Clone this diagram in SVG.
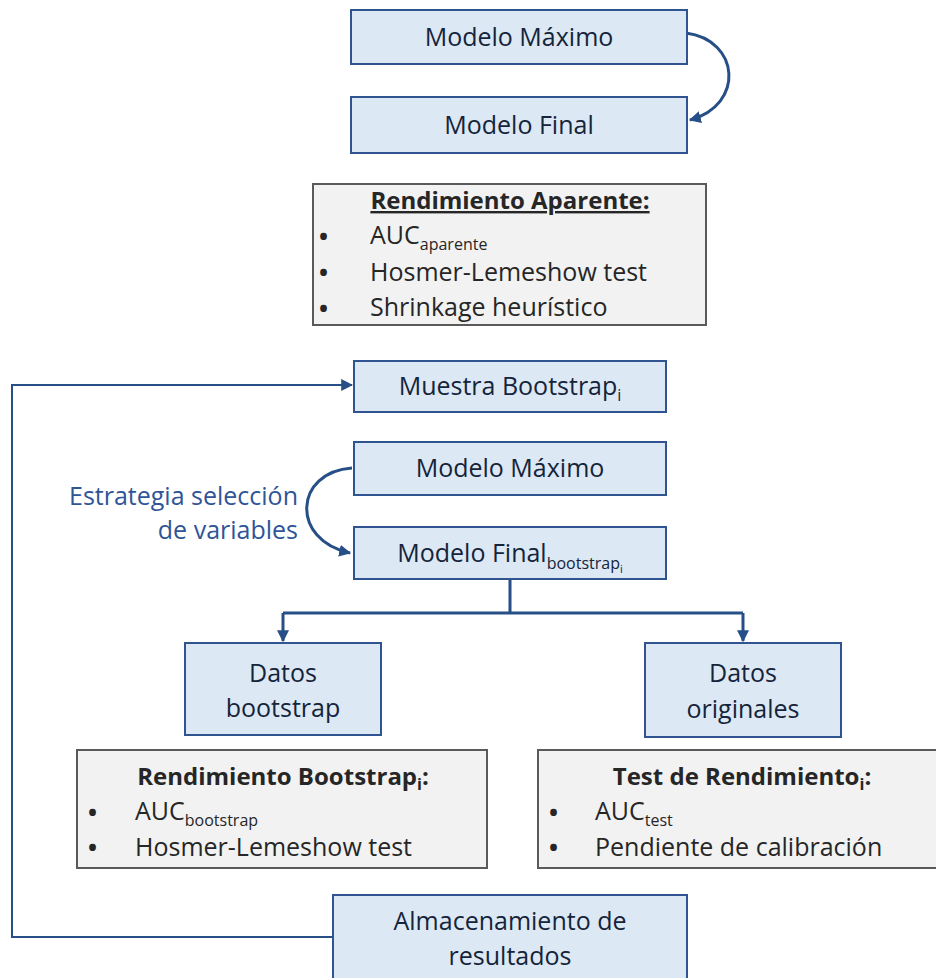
<svg xmlns="http://www.w3.org/2000/svg" width="936" height="978" viewBox="0 0 936 978">
<defs>
<style>
.bx{fill:#dde8f5;stroke:#2f5490;stroke-width:2}
.gx{fill:#f2f2f2;stroke:#5a5a5a;stroke-width:2}
.t{font-family:"Open Sans","Noto Sans",sans-serif;font-size:25px;fill:#14243a}
.g{font-family:"Open Sans","Noto Sans",sans-serif;font-size:25px;fill:#262626}
.bul{font-size:24px;font-weight:bold}
.b{font-weight:bold;font-size:24px}
.sub{font-size:16px}
.sub2{font-size:11px}
.c{fill:none;stroke:#264f87;stroke-width:2}
.c3{fill:none;stroke:#264f87;stroke-width:3}
.lbl{font-family:"Open Sans","Noto Sans",sans-serif;font-size:25px;fill:#2f5597}
</style>
<marker id="ah" viewBox="0 0 10 10" refX="9" refY="5" markerWidth="12" markerHeight="12" markerUnits="userSpaceOnUse" orient="auto">
<path d="M0,0 L10,5 L0,10 z" fill="#264f87"/>
</marker>
</defs>

<g id="connectors">
<path class="c3" d="M686,33 C740,40 745,105 690,120" marker-end="url(#ah)"/>
<path class="c" d="M333,937 H12 V385 H352" marker-end="url(#ah)"/>
<path class="c3" d="M352,468 C294,472 290,540 350,553" marker-end="url(#ah)"/>
<path class="c3" d="M510,579 V613 M283,613 H743"/>
<path class="c3" d="M283,613 V641" marker-end="url(#ah)"/>
<path class="c3" d="M743,613 V641" marker-end="url(#ah)"/>
</g>

<g id="modelo-maximo-1">
<rect class="bx" x="351" y="10" width="336" height="54"/>
<text class="t" x="519" y="46" text-anchor="middle">Modelo Máximo</text>
</g>

<g id="modelo-final-1">
<rect class="bx" x="351" y="97" width="336" height="56"/>
<text class="t" x="519" y="134" text-anchor="middle">Modelo Final</text>
</g>

<g id="rendimiento-aparente">
<rect class="gx" x="313" y="184" width="393" height="141"/>
<text class="g b" x="510" y="209" text-anchor="middle" text-decoration="underline">Rendimiento Aparente:</text>
<text class="g bul" x="319" y="245">•</text>
<text class="g" x="370" y="244">AUC<tspan class="sub" dy="6">aparente</tspan></text>
<text class="g bul" x="319" y="281">•</text>
<text class="g" x="370" y="281">Hosmer-Lemeshow test</text>
<text class="g bul" x="319" y="317">•</text>
<text class="g" x="370" y="316">Shrinkage heurístico</text>
</g>

<g id="muestra-bootstrap">
<rect class="bx" x="354" y="361" width="312" height="51"/>
<text class="t" x="510" y="395" text-anchor="middle">Muestra Bootstrap<tspan class="sub" dy="6">i</tspan></text>
</g>

<g id="modelo-maximo-2">
<rect class="bx" x="354" y="442" width="312" height="53"/>
<text class="t" x="510" y="477" text-anchor="middle">Modelo Máximo</text>
</g>

<g id="estrategia-label">
<text class="lbl" x="298" y="505" text-anchor="end">Estrategia selección</text>
<text class="lbl" x="298" y="539" text-anchor="end">de variables</text>
</g>

<g id="modelo-final-bootstrap">
<rect class="bx" x="354" y="527" width="312" height="52"/>
<text class="t" x="510" y="562" text-anchor="middle">Modelo Final<tspan class="sub" dy="7">bootstrap</tspan><tspan class="sub2" dy="4">i</tspan></text>
</g>

<g id="datos-bootstrap">
<rect class="bx" x="185" y="643" width="196" height="92"/>
<text class="t" x="283" y="682" text-anchor="middle">Datos</text>
<text class="t" x="283" y="717" text-anchor="middle">bootstrap</text>
</g>

<g id="datos-originales">
<rect class="bx" x="645" y="643" width="196" height="94"/>
<text class="t" x="743" y="682" text-anchor="middle">Datos</text>
<text class="t" x="743" y="718" text-anchor="middle">originales</text>
</g>

<g id="rendimiento-bootstrap">
<rect class="gx" x="77" y="750" width="410" height="118"/>
<text class="g b" x="283" y="785" text-anchor="middle">Rendimiento Bootstrap<tspan class="sub" dy="5">i</tspan><tspan dy="-5">:</tspan></text>
<text class="g bul" x="88" y="821">•</text>
<text class="g" x="135" y="820">AUC<tspan class="sub" dy="6">bootstrap</tspan></text>
<text class="g bul" x="88" y="856">•</text>
<text class="g" x="135" y="856">Hosmer-Lemeshow test</text>
</g>

<g id="test-rendimiento">
<rect class="gx" x="538" y="750" width="410" height="118"/>
<text class="g b" x="742" y="785" text-anchor="middle">Test de Rendimiento<tspan class="sub" dy="5">i</tspan><tspan dy="-5">:</tspan></text>
<text class="g bul" x="549" y="821">•</text>
<text class="g" x="595" y="820">AUC<tspan class="sub" dy="6">test</tspan></text>
<text class="g bul" x="549" y="856">•</text>
<text class="g" x="595" y="856">Pendiente de calibración</text>
</g>

<g id="almacenamiento">
<rect class="bx" x="333" y="895" width="354" height="90"/>
<text class="t" x="510" y="930" text-anchor="middle">Almacenamiento de</text>
<text class="t" x="510" y="965" text-anchor="middle">resultados</text>
</g>
</svg>
